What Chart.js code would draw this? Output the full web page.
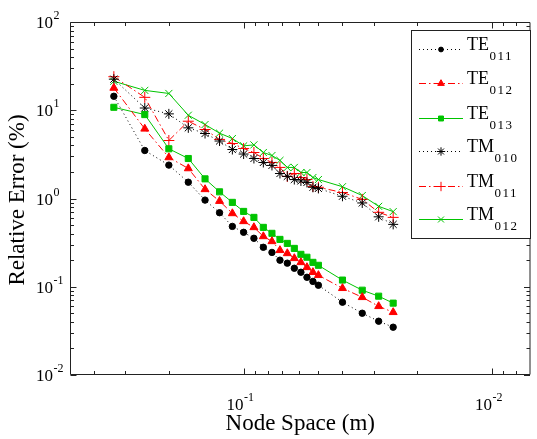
<!DOCTYPE html>
<html>
<head>
<meta charset="utf-8">
<script src="https://cdn.jsdelivr.net/npm/chart.js@4.4.1/dist/chart.umd.min.js"></script>
<style>
  html, body { margin: 0; padding: 0; background: #fff; }
</style>
</head>
<body>
<canvas id="chart" width="537" height="439"></canvas>
<script>
// node space (m) of each run
const nodeSpace = [0.333, 0.25, 0.2, 0.167, 0.143, 0.125, 0.111, 0.1, 0.0909, 0.0833, 0.0769,
                   0.0714, 0.0667, 0.0625, 0.0588, 0.0556, 0.0526, 0.05, 0.04, 0.0333, 0.0286, 0.025];

// relative error (%) for each mode
const te011 = [14.4, 3.50, 2.39, 1.53, 0.959, 0.690, 0.483, 0.414, 0.354, 0.280, 0.245,
               0.200, 0.185, 0.162, 0.146, 0.128, 0.115, 0.104, 0.0668, 0.0501, 0.0407, 0.0348];
const te012 = [17.9, 6.16, 2.92, 2.19, 1.27, 0.935, 0.678, 0.551, 0.471, 0.372, 0.327,
               0.259, 0.239, 0.210, 0.189, 0.166, 0.146, 0.135, 0.0962, 0.0760, 0.0601, 0.0514];
const te013 = [10.8, 8.93, 3.66, 2.84, 1.67, 1.19, 0.904, 0.714, 0.611, 0.471, 0.403,
               0.344, 0.310, 0.272, 0.233, 0.216, 0.189, 0.175, 0.119, 0.0914, 0.0782, 0.0652];
const tm010 = [22.5, 10.6, 9.10, 6.32, 5.45, 4.48, 3.59, 3.19, 2.84, 2.56, 2.37,
               1.92, 1.78, 1.64, 1.58, 1.52, 1.34, 1.30, 1.06, 0.89, 0.62, 0.509];
const tm011 = [24.0, 14.0, 4.54, 7.51, 6.05, 4.67, 4.20, 3.69, 3.32, 2.84, 2.56,
               2.25, 1.78, 1.92, 1.73, 1.64, 1.37, 1.34, 1.17, 0.977, 0.697, 0.611];
const tm012 = [21.3, 16.8, 15.5, 8.78, 6.89, 5.5, 4.78, 3.95, 4.05, 3.32, 3.07,
               2.70, 2.25, 2.25, 1.97, 1.97, 1.73, 1.64, 1.36, 1.08, 0.815, 0.71];

// axis ticks and labels
const yMajorTicks = [0.01, 0.1, 1, 10, 100];
const yTickExps = ['-2', '-1', '0', '1', '2'];
const xMajorTicks = [0.1, 0.01];
const xTickExps = ['-1', '-2'];
const xTitle = 'Node Space (m)';
const yTitle = 'Relative Error (%)';

const FONT = '"Liberation Serif", "Times New Roman", serif';
const RED = '#ff0000';
const GREEN = '#00c400';
const DOTS = [1, 3];
const DASHDOT = [7, 3, 1.5, 3];

function pairs(ys) {
    return nodeSpace.map((x, i) => ({ x: x, y: ys[i] }));
}

// legend entries: base text, subscript, and the dataset it belongs to
const series = [
    { base: 'TE', sub: '011', data: te011, color: '#000', dash: DOTS, style: 'circle', r: 3.2 },
    { base: 'TE', sub: '012', data: te012, color: RED, dash: DASHDOT, style: 'triangle', r: 4.6 },
    { base: 'TE', sub: '013', data: te013, color: GREEN, dash: [], style: 'rect', r: 4.3 },
    { base: 'TM', sub: '010', data: tm010, color: '#000', dash: DOTS, style: 'star', r: 5 },
    { base: 'TM', sub: '011', data: tm011, color: RED, dash: DASHDOT, style: 'cross', r: 5.5 },
    { base: 'TM', sub: '012', data: tm012, color: GREEN, dash: [], style: 'crossRot', r: 5 }
];

function minorTicks(lo, hi) {
    let out = [];
    for (let d = -3; d <= 2; d++) {
        for (let m = 2; m <= 9; m++) {
            let v = m * Math.pow(10, d);
            if (v > lo * 1.0001 && v < hi * 0.9999) out.push(v);
        }
    }
    return out;
}

// draws "10" with a superscript exponent
function drawPow(ctx, x, base, exp, anchorRight) {
    ctx.font = '17px ' + FONT;
    let w = ctx.measureText('10').width;
    let x0 = anchorRight ? x - w : x;
    ctx.fillText('10', x0, base);
    ctx.font = '12px ' + FONT;
    ctx.fillText(exp, x0 + w + 0.5, base - 9);
}

const frame = {
    id: 'frame',
    afterDraw(chart) {
        const ctx = chart.ctx;
        const a = chart.chartArea;
        const xs = chart.scales.x, ys = chart.scales.y;
        const L = a.left + 0.5, R = a.right - 0.5, T = a.top + 0.5, B = a.bottom - 0.5;
        ctx.save();
        ctx.strokeStyle = '#222';
        ctx.lineWidth = 1;
        ctx.setLineDash([]);
        ctx.beginPath();
        ctx.rect(L, T, R - L, B - T);

        // y ticks, left and right, pointing inward
        const yTick = (v, len) => {
            let p = Math.round(ys.getPixelForValue(v)) + 0.5;
            ctx.moveTo(L, p); ctx.lineTo(L + len, p);
            ctx.moveTo(R, p); ctx.lineTo(R - len, p);
        };
        yMajorTicks.forEach(v => yTick(v, 6));
        minorTicks(0.01, 100).forEach(v => yTick(v, 3.5));

        // x ticks, bottom and top
        const xTick = (v, len) => {
            let p = Math.round(xs.getPixelForValue(v)) + 0.5;
            ctx.moveTo(p, B); ctx.lineTo(p, B - len);
            ctx.moveTo(p, T); ctx.lineTo(p, T + len);
        };
        xMajorTicks.forEach(v => xTick(v, 6));
        minorTicks(xs.min, xs.max).forEach(v => xTick(v, 3.5));
        ctx.stroke();

        // tick labels
        ctx.fillStyle = '#000';
        ctx.textAlign = 'left';
        ctx.textBaseline = 'alphabetic';
        yMajorTicks.forEach((v, i) => {
            let p = ys.getPixelForValue(v);
            drawPow(ctx, 36, p + 6, yTickExps[i], false);
        });
        xMajorTicks.forEach((v, i) => {
            let p = xs.getPixelForValue(v);
            drawPow(ctx, p, a.bottom + 35, xTickExps[i], true);
        });

        // axis titles
        ctx.font = '23px ' + FONT;
        ctx.textAlign = 'center';
        ctx.fillText(xTitle, (a.left + a.right) / 2, 430);
        ctx.save();
        ctx.translate(24, 200);
        ctx.rotate(-Math.PI / 2);
        ctx.fillText(yTitle, 0, 0);
        ctx.restore();

        // legend box
        const bx = 411.5, by = 30.5, bw = 119, bh = 208;
        ctx.fillStyle = '#fff';
        ctx.fillRect(bx, by, bw, bh);
        ctx.strokeStyle = '#222';
        ctx.strokeRect(bx, by, bw, bh);
        const rows = [49, 83, 118, 151, 186, 219];
        series.forEach((s, i) => {
            let y = rows[i] + 0.5;
            ctx.strokeStyle = s.color;
            ctx.lineWidth = 1;
            ctx.setLineDash(s.dash);
            ctx.beginPath();
            ctx.moveTo(419, y); ctx.lineTo(463, y);
            ctx.stroke();
            ctx.setLineDash([]);
            ctx.fillStyle = s.color;
            Chart.helpers.drawPoint(ctx, { pointStyle: s.style, radius: s.r - 0.8, borderWidth: 1, rotation: 0 }, 441, y);
            ctx.fillStyle = '#000';
            ctx.textAlign = 'left';
            ctx.font = '18px ' + FONT;
            ctx.fillText(s.base, 467, rows[i] + 1);
            let w = ctx.measureText(s.base).width;
            ctx.font = '13px ' + FONT;
            ctx.letterSpacing = '1.5px';
            ctx.fillText(s.sub, 467 + w + 0.5, rows[i] + 11);
            ctx.letterSpacing = '0px';
        });
        ctx.restore();
    }
};

const ctx = document.getElementById('chart').getContext('2d');
const chart = new Chart(ctx, {
    type: 'line',
    data: {
        datasets: series.map(s => ({
            label: s.base + s.sub,
            data: pairs(s.data),
            borderColor: s.color,
            backgroundColor: s.color,
            borderWidth: 1,
            borderDash: s.dash,
            pointStyle: s.style,
            pointRadius: s.r,
            pointBorderWidth: 1,
            pointBackgroundColor: s.color,
            pointBorderColor: s.color,
            tension: 0,
            fill: false
        }))
    },
    options: {
        responsive: false,
        devicePixelRatio: 1,
        animation: false,
        layout: { padding: { left: 70, right: 2, top: 22, bottom: 64 } },
        plugins: {
            legend: { display: false },
            tooltip: { enabled: false }
        },
        scales: {
            x: {
                type: 'logarithmic',
                reverse: true,
                min: 0.007,
                max: 0.5,
                display: false
            },
            y: {
                type: 'logarithmic',
                min: 0.01,
                max: 100,
                display: false
            }
        }
    },
    plugins: [frame]
});
</script>
</body>
</html>
